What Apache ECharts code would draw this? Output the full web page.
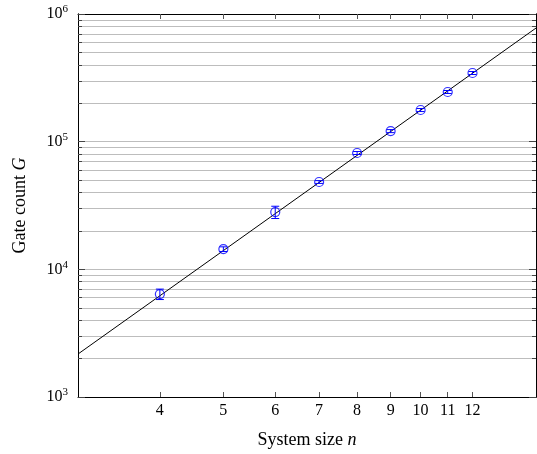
<!DOCTYPE html>
<html>
<head>
<meta charset="utf-8">
<script src="https://cdn.jsdelivr.net/npm/echarts@6/dist/echarts.min.js"></script>
<style>
html,body{margin:0;padding:0;background:#fff;}
#chart{width:537px;height:454px;}
</style>
</head>
<body>
<div id="chart"></div>
<script>
// Data
const systemSize = [4, 5, 6, 7, 8, 9, 10, 11, 12];
const gateCount = [6400, 14400, 28100, 48300, 81500, 121000, 177000, 245000, 345000];
const gateErr = [600, 600, 3100, 1200, 2200, 3300, 4800, 6600, 9300];
// Fitted power-law line endpoints (at the axis limits)
const fitX = [3, 15];
const fitY = [2170, 776000];
// Tick values
const xTicks = [4, 5, 6, 7, 8, 9, 10, 11, 12];
const yMajorTicks = [1e3, 1e4, 1e5, 1e6];
const yAllTicks = [1e3,2e3,3e3,4e3,5e3,6e3,7e3,8e3,9e3,1e4,2e4,3e4,4e4,5e4,6e4,7e4,8e4,9e4,1e5,2e5,3e5,4e5,5e5,6e5,7e5,8e5,9e5,1e6];
const xRange = [3, 15];
const yRange = [1e3, 1e6];

const FONT = 'Liberation Serif';
const scatterData = systemSize.map((n, i) => [n, gateCount[i]]);
const errData = systemSize.map((n, i) => [n, gateCount[i] - gateErr[i], gateCount[i] + gateErr[i]]);
const fitData = fitX.map((x, i) => [x, fitY[i]]);

const line = {show: true, onZero: false, lineStyle: {color: '#000', width: 1}};

function xAxisDef(pos, showLabel) {
  return {
    type: 'log', logBase: 10, min: xRange[0], max: xRange[1], position: pos,
    axisLine: line,
    axisTick: {show: true, inside: true, length: 5, customValues: xTicks, lineStyle: {color: '#555', width: 1}},
    axisLabel: {show: showLabel, customValues: xTicks, margin: 6, fontFamily: FONT, fontSize: 16, color: '#000',
      formatter: v => String(Math.round(v))},
    splitLine: {show: false}, minorTick: {show: false}, minorSplitLine: {show: false}
  };
}
function yAxisDef(pos, ticks, len, showLabel, showSplit) {
  return {
    type: 'log', logBase: 10, min: yRange[0], max: yRange[1], position: pos,
    axisLine: line,
    axisTick: {show: true, inside: true, length: len, customValues: ticks, lineStyle: {color: '#444', width: 1}},
    axisLabel: {show: showLabel, customValues: yMajorTicks, margin: 10, fontFamily: FONT, fontSize: 16, color: '#000',
      formatter: v => '{b|10}{s|' + Math.round(Math.log10(v)) + '}',
      rich: {b: {fontFamily: FONT, fontSize: 16, color: '#000'}, s: {fontFamily: FONT, fontSize: 11, color: '#000', verticalAlign: 'top', padding: [0, 0, 9, 0]}}},
    splitLine: {show: showSplit, lineStyle: {color: '#bdbdbd', width: 1}},
    minorTick: {show: false}, minorSplitLine: {show: false}
  };
}

const xMain = xAxisDef('bottom', true);
xMain.name = '{r|System size }{i|n}';
xMain.nameLocation = 'middle';
xMain.nameGap = 34;
xMain.nameTextStyle = {rich: {r: {fontFamily: FONT, fontSize: 18, color: '#000'}, i: {fontFamily: FONT, fontStyle: 'italic', fontSize: 18, color: '#000'}}};

const yMain = yAxisDef('left', yAllTicks, 4, true, true);
yMain.name = '{r|Gate count }{i|G}';
yMain.nameLocation = 'middle';
yMain.nameGap = 49;
yMain.nameRotate = 90;
yMain.nameTextStyle = {rich: {r: {fontFamily: FONT, fontSize: 18, color: '#000'}, i: {fontFamily: FONT, fontStyle: 'italic', fontSize: 18, color: '#000'}}};

const option = {
  backgroundColor: '#fff',
  animation: false,
  grid: {left: 78, right: 1, top: 14, bottom: 57, containLabel: false},
  xAxis: [xMain, xAxisDef('top', false)],
  yAxis: [
    yMain,
    yAxisDef('left', yMajorTicks, 7, false, false),
    yAxisDef('right', yAllTicks, 4, false, false),
    yAxisDef('right', yMajorTicks, 7, false, false)
  ],
  series: [
    {
      type: 'line', data: fitData, xAxisIndex: 0, yAxisIndex: 0,
      showSymbol: false, symbol: 'none', lineStyle: {color: '#000', width: 1}, z: 3, silent: true
    },
    {
      type: 'custom', data: errData, xAxisIndex: 0, yAxisIndex: 0, z: 4,
      encode: {x: 0, y: [1, 2]},
      renderItem: function (params, api) {
        const x = api.value(0);
        const p1 = api.coord([x, api.value(2)]);
        const p2 = api.coord([x, api.value(1)]);
        const w = 4;
        const st = {stroke: '#0000ff', lineWidth: 1};
        return {type: 'group', children: [
          {type: 'line', shape: {x1: p1[0], y1: p1[1], x2: p2[0], y2: p2[1]}, style: st},
          {type: 'line', shape: {x1: p1[0] - w, y1: p1[1], x2: p1[0] + w, y2: p1[1]}, style: st},
          {type: 'line', shape: {x1: p2[0] - w, y1: p2[1], x2: p2[0] + w, y2: p2[1]}, style: st}
        ]};
      }
    },
    {
      type: 'scatter', data: scatterData, xAxisIndex: 0, yAxisIndex: 0, z: 5,
      symbol: 'circle', symbolSize: 9,
      itemStyle: {color: 'rgba(0,0,0,0)', borderColor: '#0000ff', borderWidth: 1.2}
    }
  ]
};

const chart = echarts.init(document.getElementById('chart'), null, {renderer: 'canvas'});
chart.setOption(option);
</script>
</body>
</html>
